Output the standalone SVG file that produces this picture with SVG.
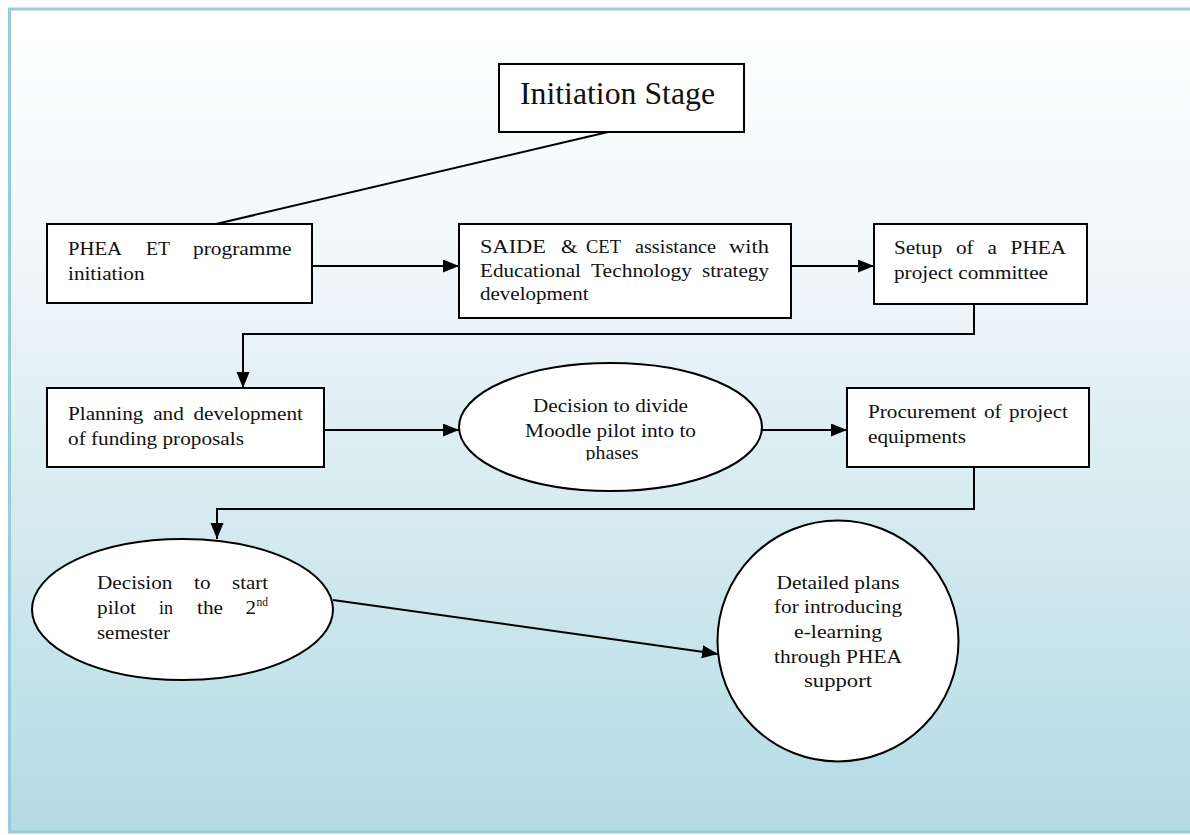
<svg xmlns="http://www.w3.org/2000/svg" width="1190" height="835" viewBox="0 0 1190 835">
<defs>
<linearGradient id="bg" x1="0" y1="0" x2="0" y2="1">
<stop offset="0" stop-color="#ffffff"/>
<stop offset="0.3" stop-color="#f1f7f9"/>
<stop offset="1" stop-color="#b3dbe5"/>
</linearGradient>
<marker id="arr" markerUnits="userSpaceOnUse" markerWidth="18" markerHeight="14" refX="16" refY="6.5" orient="auto">
<path d="M0,0 L16,6.5 L0,13 z" fill="#000"/>
</marker>
<clipPath id="clipPh"><rect x="400" y="440" width="400" height="20.5"/></clipPath>
</defs>
<style>
.shape{fill:#fff;stroke:#000;stroke-width:2}
.t{font-family:"Liberation Serif","Times New Roman",serif;font-size:19.5px;fill:#111}
.c{text-anchor:middle}
.con{fill:none;stroke:#000;stroke-width:2}
</style>
<rect x="0" y="0" width="1190" height="835" fill="#fff"/>
<rect id="frame" x="9.5" y="9" width="1185" height="823" fill="url(#bg)" stroke="#94cddc" stroke-width="3"/>

<g id="connectors">
<line class="con" x1="608" y1="132" x2="216" y2="224"/>
<line class="con" x1="312" y1="266" x2="459" y2="266" marker-end="url(#arr)"/>
<line class="con" x1="791" y1="266" x2="874" y2="266" marker-end="url(#arr)"/>
<polyline class="con" points="974,304 974,334 243,334 243,388" marker-end="url(#arr)"/>
<line class="con" x1="324" y1="430" x2="459" y2="430" marker-end="url(#arr)"/>
<line class="con" x1="762" y1="430" x2="847" y2="430" marker-end="url(#arr)"/>
<polyline class="con" points="974,467 974,509 217,509 217,539" marker-end="url(#arr)"/>
<line class="con" x1="333" y1="600" x2="718" y2="654" marker-end="url(#arr)"/>
</g>

<g id="initiation">
<rect class="shape" x="499" y="64" width="245" height="68"/>
<text class="t" x="520" y="104" style="font-size:31px" textLength="195" lengthAdjust="spacingAndGlyphs">Initiation Stage</text>
</g>

<g id="phea">
<rect class="shape" x="47" y="224" width="265" height="79"/>
<text class="t" x="68" y="255" textLength="54" lengthAdjust="spacingAndGlyphs">PHEA</text>
<text class="t" x="146" y="255" textLength="24" lengthAdjust="spacingAndGlyphs">ET</text>
<text class="t" x="193" y="255" textLength="98.5" lengthAdjust="spacingAndGlyphs">programme</text>
<text class="t" x="68" y="280" textLength="76.5" lengthAdjust="spacingAndGlyphs">initiation</text>
</g>

<g id="saide">
<rect class="shape" x="459" y="224" width="332" height="94"/>
<text class="t" x="480" y="253" textLength="66" lengthAdjust="spacingAndGlyphs">SAIDE</text>
<text class="t" x="561" y="253" textLength="16.5" lengthAdjust="spacingAndGlyphs">&amp;</text>
<text class="t" x="586" y="253" textLength="35" lengthAdjust="spacingAndGlyphs">CET</text>
<text class="t" x="635" y="253" textLength="81" lengthAdjust="spacingAndGlyphs">assistance</text>
<text class="t" x="729" y="253" textLength="40" lengthAdjust="spacingAndGlyphs">with</text>
<text class="t" x="480" y="277" textLength="101" lengthAdjust="spacingAndGlyphs">Educational</text>
<text class="t" x="591" y="277" textLength="101" lengthAdjust="spacingAndGlyphs">Technology</text>
<text class="t" x="702" y="277" textLength="67" lengthAdjust="spacingAndGlyphs">strategy</text>
<text class="t" x="480" y="300" textLength="108.5" lengthAdjust="spacingAndGlyphs">development</text>
</g>

<g id="setup">
<rect class="shape" x="874" y="224" width="213" height="80"/>
<text class="t" x="894" y="254" textLength="48.3" lengthAdjust="spacingAndGlyphs">Setup</text>
<text class="t" x="956" y="254" textLength="17.7" lengthAdjust="spacingAndGlyphs">of</text>
<text class="t" x="987.4" y="254" textLength="9.4" lengthAdjust="spacingAndGlyphs">a</text>
<text class="t" x="1010.6" y="254" textLength="55.4" lengthAdjust="spacingAndGlyphs">PHEA</text>
<text class="t" x="894" y="279" textLength="154" lengthAdjust="spacingAndGlyphs">project committee</text>
</g>

<g id="planning">
<rect class="shape" x="47" y="388" width="277" height="79"/>
<text class="t" x="68" y="420" textLength="75.4" lengthAdjust="spacingAndGlyphs">Planning</text>
<text class="t" x="153.2" y="420" textLength="30.6" lengthAdjust="spacingAndGlyphs">and</text>
<text class="t" x="193.5" y="420" textLength="109.5" lengthAdjust="spacingAndGlyphs">development</text>
<text class="t" x="68" y="445" textLength="176" lengthAdjust="spacingAndGlyphs">of funding proposals</text>
</g>

<g id="divide">
<ellipse class="shape" cx="610.5" cy="427" rx="151.5" ry="64"/>
<text class="t c" x="610.5" y="412" textLength="155" lengthAdjust="spacingAndGlyphs">Decision to divide</text>
<text class="t c" x="610.5" y="437" textLength="171" lengthAdjust="spacingAndGlyphs">Moodle pilot into to</text>
<text class="t c" x="612" y="459" textLength="53" lengthAdjust="spacingAndGlyphs" clip-path="url(#clipPh)">phases</text>
</g>

<g id="procurement">
<rect class="shape" x="847" y="388" width="242" height="79"/>
<text class="t" x="868" y="418" textLength="108.3" lengthAdjust="spacingAndGlyphs">Procurement</text>
<text class="t" x="983.9" y="418" textLength="17.7" lengthAdjust="spacingAndGlyphs">of</text>
<text class="t" x="1009.1" y="418" textLength="58.9" lengthAdjust="spacingAndGlyphs">project</text>
<text class="t" x="868" y="443" textLength="98" lengthAdjust="spacingAndGlyphs">equipments</text>
</g>

<g id="pilot">
<ellipse class="shape" cx="182.5" cy="609.5" rx="150.5" ry="70.5"/>
<text class="t" x="97" y="589" textLength="75.4" lengthAdjust="spacingAndGlyphs">Decision</text>
<text class="t" x="194" y="589" textLength="16.5" lengthAdjust="spacingAndGlyphs">to</text>
<text class="t" x="232" y="589" textLength="36" lengthAdjust="spacingAndGlyphs">start</text>
<text class="t" x="97" y="614" textLength="39" lengthAdjust="spacingAndGlyphs">pilot</text>
<text class="t" x="159" y="614" textLength="14" lengthAdjust="spacingAndGlyphs">in</text>
<text class="t" x="197" y="614" textLength="26" lengthAdjust="spacingAndGlyphs">the</text>
<text class="t" x="245.5" y="614" textLength="10.5" lengthAdjust="spacingAndGlyphs">2</text>
<text class="t" x="256.5" y="606" style="font-size:12px" textLength="11.5" lengthAdjust="spacingAndGlyphs">nd</text>
<text class="t" x="97" y="639" textLength="73" lengthAdjust="spacingAndGlyphs">semester</text>
</g>

<g id="detailed">
<circle class="shape" cx="838" cy="641" r="120.5"/>
<text class="t c" x="838" y="589" textLength="123" lengthAdjust="spacingAndGlyphs">Detailed plans</text>
<text class="t c" x="838" y="613" textLength="128" lengthAdjust="spacingAndGlyphs">for introducing</text>
<text class="t c" x="838" y="638" textLength="88" lengthAdjust="spacingAndGlyphs">e-learning</text>
<text class="t c" x="838" y="663" textLength="128" lengthAdjust="spacingAndGlyphs">through PHEA</text>
<text class="t c" x="838" y="687" textLength="68" lengthAdjust="spacingAndGlyphs">support</text>
</g>
</svg>
